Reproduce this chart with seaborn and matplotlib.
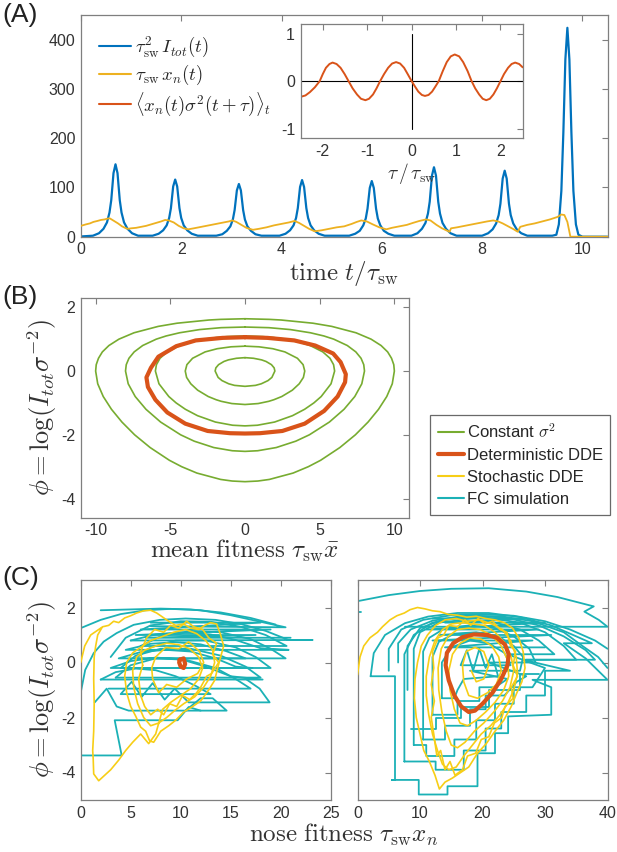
import numpy as np
import pandas as pd
import matplotlib
matplotlib.use("Agg")
import matplotlib.pyplot as plt
from matplotlib.lines import Line2D
import seaborn as sns

BLUE, GOLD, RED = "#0072BD", "#EDB120", "#D95319"
GREEN, YELLOW, CYAN = "#77AC30", "#F7CE16", "#1BB1B6"

# ---------------- panel A: time series ----------------
blue_t = [0.00,
          0.24, 0.36, 0.45, 0.52, 0.57, 0.605, 0.65, 0.69, 0.73, 0.775, 0.81, 0.86, 0.93, 1.02, 1.14,
          1.43, 1.55, 1.64, 1.71, 1.76, 1.795, 1.84, 1.88, 1.92, 1.965, 2.00, 2.05, 2.12, 2.21, 2.33,
          2.70, 2.82, 2.91, 2.98, 3.03, 3.065, 3.11, 3.15, 3.19, 3.235, 3.27, 3.32, 3.39, 3.48, 3.60,
          3.96, 4.08, 4.17, 4.24, 4.29, 4.325, 4.37, 4.41, 4.45, 4.495, 4.53, 4.58, 4.65, 4.74, 4.86,
          5.35, 5.47, 5.56, 5.63, 5.68, 5.715, 5.76, 5.80, 5.84, 5.885, 5.92, 5.97, 6.04, 6.13, 6.25,
          6.59, 6.71, 6.80, 6.87, 6.92, 6.955, 7.00, 7.04, 7.08, 7.125, 7.16, 7.21, 7.28, 7.37, 7.49,
          8.00, 8.12, 8.21, 8.28, 8.33, 8.365, 8.41, 8.45, 8.49, 8.535, 8.57, 8.62, 8.69, 8.78, 8.90,
          9.40, 9.48, 9.53, 9.58, 9.62, 9.66, 9.70, 9.74, 9.78, 9.82, 9.87, 9.92, 10.0,
          10.5]
blue_v = [0.5,
          2, 7, 16, 29, 49, 74, 129, 147, 129, 74, 49, 29, 16, 7, 2,
          2, 6, 13, 23, 38, 58, 102, 116, 102, 58, 38, 23, 13, 6, 2,
          2, 5, 12, 21, 35, 54, 94, 107, 94, 54, 35, 21, 12, 5, 2,
          2, 6, 13, 23, 38, 58, 101, 115, 101, 58, 38, 23, 13, 6, 2,
          2, 6, 12, 23, 37, 57, 99, 113, 99, 57, 37, 23, 12, 6, 2,
          2, 7, 16, 28, 47, 71, 124, 141, 124, 71, 47, 28, 16, 7, 2,
          2, 7, 15, 27, 44, 67, 118, 134, 118, 67, 44, 27, 15, 7, 2,
          2, 4, 25, 93, 212, 360, 424, 360, 212, 93, 25, 4, 0,
          0]

xn_t = [0.00, 0.10, 0.18, 0.25, 0.33, 0.40, 0.47, 0.54, 0.58, 0.66, 0.74, 0.82, 0.90, 0.94,
        1.00, 1.10, 1.20, 1.30, 1.40, 1.50, 1.60, 1.68, 1.75, 1.85, 1.95, 2.05, 2.14,
        2.25, 2.40, 2.55, 2.70, 2.85, 2.95, 3.02, 3.10, 3.20, 3.30, 3.43,
        3.55, 3.70, 3.85, 4.00, 4.15, 4.26, 4.35, 4.45, 4.55, 4.66,
        4.80, 4.95, 5.10, 5.25, 5.40, 5.50, 5.59, 5.70, 5.82, 5.95, 6.09,
        6.20, 6.35, 6.50, 6.62, 6.75, 6.88, 6.97, 7.09, 7.20, 7.35, 7.38,
        7.50, 7.65, 7.80, 7.95, 8.10, 8.22, 8.32, 8.41, 8.52, 8.63, 8.71, 8.76,
        8.90, 9.05, 9.20, 9.35, 9.50, 9.58, 9.64, 9.70, 9.76, 10.5]
xn_v = [22, 25, 27, 30, 32, 34, 35, 37, 37, 32, 27, 21, 17, 16,
        17, 18, 20, 22, 25, 28, 31, 34, 33, 29, 22, 17, 15,
        17, 20, 23, 26, 29, 31, 33, 30, 24, 18, 14,
        16, 19, 23, 26, 29, 32, 28, 22, 16, 11,
        13, 16, 19, 21, 26, 30, 33, 31, 25, 19, 15,
        18, 21, 24, 28, 32, 35, 33, 24, 17, 10, 17,
        19, 22, 25, 28, 31, 33, 31, 27, 21, 15, 10, 20,
        24, 27, 31, 35, 40, 45, 44, 30, 0, 0]

# inset: cross-correlation
tau = [-2.50, -2.39, -2.29, -2.18, -2.07, -2.00, -1.93, -1.85, -1.78, -1.69, -1.60, -1.51, -1.42,
       -1.33, -1.23, -1.14, -1.04, -0.96, -0.87, -0.79, -0.71, -0.62, -0.53, -0.44, -0.35,
       -0.26, -0.17, -0.09, 0.00, 0.08, 0.15, 0.23, 0.30, 0.38, 0.46, 0.53, 0.61,
       0.70, 0.79, 0.88, 0.97, 1.07, 1.16, 1.26, 1.35, 1.43, 1.52, 1.60, 1.68,
       1.76, 1.84, 1.92, 2.00, 2.08, 2.17, 2.25, 2.33, 2.42, 2.50]
corr = [-0.33, -0.30, -0.23, -0.13, 0.00, 0.15, 0.28, 0.36, 0.39, 0.36, 0.28, 0.15, 0.00,
        -0.15, -0.28, -0.37, -0.40, -0.37, -0.28, -0.15, 0.00, 0.15, 0.28, 0.37, 0.40,
        0.37, 0.28, 0.15, 0.00, -0.12, -0.22, -0.29, -0.31, -0.29, -0.22, -0.12, 0.00,
        0.21, 0.40, 0.52, 0.56, 0.52, 0.40, 0.21, 0.00, -0.15, -0.28, -0.37, -0.40,
        -0.37, -0.28, -0.15, 0.00, 0.15, 0.28, 0.36, 0.39, 0.36, 0.29]

# ---------------- panel B: phase plane (right half of each closed orbit) ----------------
c50_x = [0, 1.64, 2.42, 4.55, 5.81, 7.43, 8.44, 9.11, 9.55, 9.81, 9.96, 10.0, 9.86, 9.49,
         8.94, 8.24, 7.39, 6.35, 5.06, 4.24, 3.22, 1.63, 0.86, 0]
c50_p = [1.64, 1.62, 1.60, 1.50, 1.40, 1.20, 1.00, 0.80, 0.60, 0.40, 0.20, 0.0, -0.40, -0.80,
         -1.20, -1.60, -2.00, -2.40, -2.80, -3.00, -3.20, -3.40, -3.45, -3.47]
c32_x = [0, 1.60, 3.04, 4.38, 5.28, 5.94, 6.85, 7.42, 7.77, 7.95, 8.0, 7.82, 7.35, 6.63,
         5.65, 4.31, 3.40, 2.09, 0.85, 0]
c32_p = [1.38, 1.36, 1.30, 1.20, 1.10, 1.00, 0.80, 0.60, 0.40, 0.20, 0.0, -0.40, -0.80, -1.20,
         -1.60, -2.00, -2.20, -2.40, -2.50, -2.52]
c18_x = [0, 1.19, 1.92, 2.70, 3.69, 4.36, 5.21, 5.69, 5.93, 6.0, 5.76, 5.10, 4.61, 3.99,
         3.18, 1.98, 0.83, 0]
c18_p = [1.10, 1.08, 1.05, 1.00, 0.90, 0.80, 0.60, 0.40, 0.20, 0.0, -0.40, -0.80, -1.00, -1.20,
         -1.40, -1.60, -1.70, -1.72]
c8_x = [0, 0.93, 1.86, 2.67, 3.51, 3.89, 4.0, 3.91, 3.63, 3.17, 2.46, 1.93, 1.59, 0.88, 0]
c8_p = [0.78, 0.76, 0.70, 0.60, 0.40, 0.20, 0.0, -0.20, -0.40, -0.60, -0.80, -0.90, -0.95,
        -1.02, -1.05]
c2_x = [0, 0.57, 1.11, 1.41, 1.77, 1.95, 2.0, 1.80, 1.54, 1.09, 0.70, 0]
c2_p = [0.42, 0.40, 0.35, 0.30, 0.20, 0.10, 0.0, -0.20, -0.30, -0.40, -0.45, -0.48]

dde_x = [0, -1.5, -3.3, -4.6, -5.8, -6.3, -6.6, -6.5, -6.0, -5.2, -4.0, -2.5, -1.0, 0,
         1.0, 2.5, 4.0, 5.3, 6.2, 6.7, 6.75, 6.4, 5.9, 4.7, 3.3, 1.5, 0]
dde_p = [1.06, 1.04, 0.96, 0.78, 0.45, 0.10, -0.20, -0.50, -0.90, -1.30, -1.65, -1.88, -1.95,
         -1.96, -1.95, -1.88, -1.65, -1.25, -0.80, -0.35, -0.10, 0.28, 0.55, 0.80, 0.96, 1.04, 1.06]

# ---------------- panel C left: FC simulation / stochastic DDE ----------------
fcL_outer = [(0.0, 1.25), (2.0, 1.55), (4.0, 1.76), (6.5, 1.9), (9.0, 1.95), (12.0, 1.9),
             (15.0, 1.72), (18.0, 1.48), (20.5, 1.28), (7.0, 1.32)]
fcL_top = [(2.0, 1.9), (5.0, 1.93), (8.0, 1.96), (11.0, 1.93), (14.0, 1.82), (17.0, 1.62),
           (19.5, 1.38)]
fcL_rise = [(0.0, -1.1), (0.45, -0.27), (1.3, 0.34), (2.3, 0.76), (3.6, 1.07), (5.3, 1.37),
            (7.9, 1.55), (10.5, 1.6), (13.5, 1.55), (16.0, 1.4), (18.5, 1.15), (20.8, 0.82),
            (23.2, 0.82), (5.0, 0.8)]
fcL_mid = [(5.0, 0.8), (7.5, 1.02), (10.0, 1.1), (13.0, 1.02), (15.5, 0.82), (18.0, 0.52),
           (20.8, 0.46), (4.5, 0.46), (7.0, 0.68), (9.5, 0.74), (12.0, 0.66), (14.5, 0.42),
           (16.5, 0.15), (3.8, 0.15), (6.0, 0.38), (8.5, 0.46), (11.0, 0.40), (13.5, 0.15),
           (15.5, -0.15), (17.2, -0.2), (3.0, -0.2), (5.0, 0.05), (7.5, 0.18), (10.0, 0.12),
           (12.5, -0.15), (15.0, -0.5), (18.2, -0.62), (2.0, -0.62)]
fcL_low = [(2.0, -0.62), (3.5, -0.35), (5.5, -0.22), (7.5, -0.28), (9.5, -0.5), (11.5, -0.85),
           (13.0, -1.15), (4.0, -1.15), (5.1, -0.7), (6.1, -1.25), (7.2, -0.75), (8.4, -1.35),
           (9.4, -0.95), (10.8, -1.45), (18.9, -1.45), (17.9, -0.95), (16.6, -0.62)]
fcL_zig = [(1.4, -1.45), (2.6, -0.95), (3.6, -1.6), (4.8, -1.75), (14.6, -1.75), (13.2, -1.3),
           (12.0, -1.3), (10.5, -1.75)]
fcL_bottom = [(0.0, -3.38), (4.1, -3.38), (3.4, -2.1), (9.7, -2.1), (10.8, -1.62), (12.0, -1.75)]
fcL_a = [(3.0, 0.2), (4.5, 0.9), (7.0, 1.35), (10.0, 1.5), (13.0, 1.48), (16.0, 1.3),
         (18.5, 1.0), (20.6, 0.6), (6.0, 0.6)]
fcL_b = [(6.0, 0.6), (8.0, 0.95), (11.0, 1.15), (14.0, 1.1), (17.0, 0.85), (19.0, 0.5),
         (20.5, 0.15), (5.5, 0.15)]
fcL_c = [(5.5, 0.15), (7.0, 0.55), (9.5, 0.8), (12.5, 0.8), (15.5, 0.55), (17.5, 0.2),
         (19.0, -0.2), (4.0, -0.2)]
fcL_d = [(4.0, -0.2), (5.5, 0.25), (8.0, 0.5), (11.0, 0.5), (14.0, 0.25), (16.5, -0.15),
         (18.0, -0.55), (3.5, -0.55)]
fcL_e = [(3.5, -0.55), (5.0, -0.1), (7.5, 0.15), (10.5, 0.1), (13.5, -0.2), (15.5, -0.6),
         (17.0, -0.95), (2.8, -0.95)]
fcL_h = [(7.0, 1.45), (18.0, 1.45), (6.0, 1.2), (19.0, 1.2), (5.5, 1.0), (17.5, 1.0),
         (6.5, 0.9), (21.0, 0.9)]

sdeL = [(0.0, 0.0), (0.4, 0.6), (1.0, 1.0), (1.6, 1.15), (2.2, 1.3), (2.8, 1.35), (3.3, 1.5),
        (3.8, 1.45), (4.4, 1.62), (5.0, 1.7), (5.6, 1.8), (6.3, 1.88), (7.0, 1.9), (7.6, 1.8),
        (8.2, 1.65), (8.8, 1.5), (9.5, 1.35), (10.3, 1.4), (11.0, 1.25), (11.8, 1.2), (12.4, 1.35),
        (13.0, 1.45), (13.6, 1.4), (14.0, 1.0), (14.3, 0.6), (14.0, 0.2), (13.7, -0.2),
        (13.4, -0.65), (12.8, -1.0), (12.0, -1.4), (11.2, -1.6), (10.3, -1.8), (9.5, -2.1),
        (8.8, -2.3), (8.0, -2.5), (7.3, -2.9), (6.9, -2.85), (6.5, -2.5), (6.0, -2.35),
        (5.5, -1.95), (5.0, -1.6), (4.6, -1.1), (4.4, -0.5), (4.6, 0.0), (5.2, 0.35), (6.0, 0.55),
        (7.0, 0.8), (8.2, 0.95), (9.3, 1.1), (10.5, 1.2), (11.6, 1.05), (12.5, 0.8), (13.2, 0.45),
        (13.4, 0.0), (13.0, -0.5), (12.3, -0.9), (11.4, -1.25), (10.3, -1.5), (9.4, -1.75),
        (8.6, -2.0), (7.8, -2.2), (7.0, -2.3), (6.3, -2.0), (5.7, -1.5), (5.3, -0.9), (5.2, -0.3),
        (5.6, 0.2), (6.4, 0.45), (7.5, 0.6), (8.6, 0.7), (9.8, 0.65), (10.9, 0.5), (11.8, 0.2),
        (12.2, -0.2), (11.8, -0.6), (11.0, -0.95), (10.0, -1.2), (9.0, -1.45), (8.2, -1.7),
        (7.5, -2.6), (6.8, -2.95), (6.0, -2.6), (5.2, -2.9), (4.5, -3.2), (3.8, -3.55),
        (3.0, -3.9), (2.4, -4.1), (1.8, -4.3), (1.6, -4.2), (1.3, -4.05), (1.25, -3.5),
        (1.2, -3.2), (1.3, -2.5), (1.35, -1.5), (1.3, -0.6), (1.35, 0.2), (1.5, 0.6), (1.7, 1.0),
        (2.1, 1.25)]
sdeL2 = [(6.2, -0.1), (6.0, 0.4), (6.6, 0.9), (7.4, 1.2), (8.3, 1.1), (9.0, 1.35), (9.8, 1.25),
         (10.6, 1.5), (11.3, 1.3), (12.2, 1.2), (12.8, 0.9), (13.6, 0.7), (13.2, 0.3), (13.8, 0.0),
         (13.1, -0.4), (12.6, -0.5), (12.0, -0.9), (11.6, -1.1), (10.9, -1.35), (10.2, -1.2),
         (9.6, -1.6), (8.9, -1.5), (8.3, -1.9), (7.7, -1.7), (7.0, -1.9), (6.4, -1.6), (6.0, -1.2),
         (5.8, -0.6), (6.2, -0.1)]
sdeL3 = [(7.5, 0.2), (8.5, 0.55), (9.8, 0.5), (10.8, 0.75), (11.9, 0.4), (12.3, 0.0), (11.7, -0.4),
         (10.6, -0.6), (9.6, -0.9), (8.6, -0.8), (7.8, -1.1), (7.2, -0.6), (7.1, -0.2), (7.5, 0.2)]
ddeL = [(9.9, 0.1), (10.3, 0.15), (10.45, -0.05), (10.3, -0.2), (10.0, -0.15), (9.85, 0.0),
        (9.9, 0.1)]

# ---------------- panel C right ----------------
fcR_top = [(0.0, 2.23), (5, 2.45), (10, 2.6), (15, 2.68), (21, 2.7), (27, 2.58), (32, 2.38),
           (37.8, 2.04), (36.3, 1.85), (38.6, 1.55), (40, 1.3), (7.6, 1.3)]
fcR_stub = [(0.0, 1.85), (0.5, 1.85)]
fcR_1 = [(2.1, -0.5), (2.6, 0.34), (4.4, 1.0), (7.6, 1.43), (11.3, 1.67), (16, 1.8), (21, 1.8),
         (26, 1.65), (31, 1.35), (35, 0.95), (37.5, 0.7), (33, 0.7), (36.5, 0.15), (40, -0.63),
         (28, -0.63), (31, -0.9), (31, -1.9), (24.1, -1.96), (24.1, -2.57), (22, -2.57),
         (22, -3.3), (19.2, -3.3), (19.2, -4.5), (14.4, -4.5), (14.4, -4.8), (9.8, -4.8),
         (9.8, -4.27), (5.5, -4.27), (6.0, -4.27), (6.0, -0.5), (2.1, -0.5)]
fcR_2 = [(7.5, -3.6), (7.5, 0.3), (9, 1.0), (12, 1.45), (16, 1.62), (21, 1.62), (26, 1.45),
         (30, 1.1), (33, 0.6), (35, 0.1), (26.5, 0.1), (34, -0.3), (30, -0.3), (30, -1.2),
         (27, -1.2), (27, -1.8), (23, -1.8), (23, -2.4), (20.5, -2.4), (20.5, -3.2), (17, -3.2),
         (17, -3.9), (12.5, -3.9), (12.5, -3.6), (7.5, -3.6)]
fcR_3 = [(9, -3.0), (9, 0.5), (10, 1.1), (13, 1.45), (17, 1.55), (22, 1.45), (26, 1.2),
         (29, 0.8), (31.5, 0.3), (24, 0.3), (30, -0.2), (28, -0.9), (25, -0.9), (25, -1.5),
         (22, -1.5), (22, -2.1), (19, -2.1), (19, -2.8), (15.5, -2.8), (15.5, -3.4), (11, -3.4),
         (11, -3.0), (9, -3.0)]
fcR_4 = [(10.5, -2.8), (10.5, 0.4), (11.5, 0.9), (14, 1.25), (18, 1.35), (22, 1.25), (25, 0.95),
         (27.5, 0.5), (28.5, 0.0), (21, 0.0), (27, -0.5), (25.5, -0.7), (23.5, -1.2), (20.5, -1.2),
         (20.5, -1.7), (18, -1.7), (18, -2.3), (14, -2.3), (14, -2.8), (10.5, -2.8)]
fcR_5 = [(12, -1.9), (12, 0.2), (13, 0.75), (15.5, 1.05), (19, 1.1), (22.5, 0.95), (25, 0.6),
         (26.5, 0.2), (26, -0.3), (18, -0.3), (24, -0.6), (22, -0.9), (19.5, -0.9), (19.5, -1.4),
         (16, -1.4), (16, -1.9), (12, -1.9)]
fcR_6 = [(13.5, -1.3), (13.5, 0.0), (15, 0.55), (18, 0.8), (21, 0.7), (23.5, 0.35), (24.5, -0.1),
         (16.5, -0.1), (17.5, 0.45), (18.5, -0.3), (19.5, 0.5), (20.5, -0.2), (21.5, 0.3),
         (22.5, -0.5), (17, -0.6), (16, -1.0), (15.5, -1.3), (13.5, -1.3)]
fcR_7 = [(6.5, 0.0), (6.5, 0.7), (8.5, 1.2), (12, 1.52), (17, 1.7), (23, 1.68), (28, 1.5),
         (33, 1.1), (36, 0.6), (38.5, 0.2), (40, -0.2)]
fcR_8 = [(5.0, -0.3), (5.0, 0.5), (7.0, 1.2), (10.5, 1.55), (15, 1.72), (20, 1.76), (25, 1.7),
         (30, 1.5), (34, 1.2), (38, 0.8), (40, 0.5)]
fcR_9 = [(8.0, -1.0), (8.0, 0.6), (10, 1.25), (14, 1.58), (19, 1.7), (24, 1.62), (29, 1.35),
         (33, 0.95), (36.5, 0.45), (38, 0.1), (27, 0.1)]
fcR_h = [(12, 1.6), (27, 1.6), (14, 1.45), (30, 1.45), (11, 1.2), (29, 1.2), (13, 1.0), (31, 1.0),
         (12, 0.8), (28, 0.8), (14, 0.55), (30, 0.55)]
fcR_s = [(8.5, -2.4), (12.5, -2.4), (12.5, -2.0), (16.5, -2.0), (16.5, -1.6), (21, -1.6),
         (21, -1.0), (26, -1.0), (26, -0.4), (29, -0.4)]

sdeR = [(0.0, -0.45), (0.4, 0.2), (1.0, 0.6), (2.0, 0.9), (3.2, 1.1), (4.0, 1.3), (5.2, 1.55),
        (6.3, 1.7), (7.5, 1.8), (8.4, 1.92), (9.6, 2.0), (10.8, 1.95), (12.0, 1.88), (13.2, 1.85),
        (14.5, 1.75), (16.0, 1.72), (17.5, 1.65), (19.0, 1.68), (20.5, 1.6), (22.0, 1.55),
        (23.5, 1.45), (24.8, 1.25), (25.8, 0.9), (26.5, 0.4), (26.8, -0.2), (26.3, -0.7),
        (25.5, -1.1), (24.6, -1.6), (23.4, -2.1), (22.0, -2.5), (20.6, -2.95), (19.2, -3.3),
        (17.8, -3.8), (16.5, -4.0), (15.2, -4.2), (14.0, -4.35), (13.1, -4.6), (12.4, -4.1),
        (11.5, -3.6), (10.6, -3.2), (10.0, -2.6), (9.4, -2.0), (9.1, -1.3), (9.2, -0.6),
        (9.6, 0.0), (10.2, 0.6), (11.2, 1.0), (12.5, 1.35), (14.0, 1.55), (15.8, 1.6), (17.5, 1.5),
        (19.5, 1.55), (21.5, 1.4), (23.2, 1.2), (24.5, 0.8), (25.4, 0.2), (25.6, -0.4),
        (25.0, -1.0), (24.0, -1.5), (22.8, -1.9), (21.3, -2.3), (19.8, -2.6), (18.4, -3.0),
        (17.0, -3.4), (15.8, -3.8), (14.6, -3.9), (13.6, -3.7), (12.8, -3.2), (12.0, -2.6),
        (11.4, -1.9), (11.0, -1.2), (11.0, -0.5), (11.5, 0.2), (12.4, 0.8), (13.6, 1.2),
        (15.0, 1.4), (16.8, 1.45), (18.5, 1.4), (20.3, 1.35), (22.0, 1.1), (23.6, 0.7),
        (24.6, 0.2), (25.0, -0.3), (24.4, -0.9), (23.2, -1.4), (21.8, -1.8), (20.2, -2.2),
        (18.7, -2.5), (17.2, -2.9), (16.0, -3.1), (15.0, -3.0), (14.2, -2.5), (13.5, -1.8),
        (13.0, -1.0), (12.9, -0.2), (13.4, 0.5), (14.5, 0.95), (16.0, 1.2), (17.8, 1.25),
        (19.6, 1.2), (21.4, 1.0), (23.0, 0.6), (24.0, 0.1), (24.2, -0.5), (23.4, -1.0),
        (22.0, -1.45), (20.5, -1.8), (19.0, -2.1), (17.6, -2.3), (16.4, -2.2), (15.5, -1.7),
        (14.8, -1.0), (14.6, -0.3), (15.2, 0.3), (16.4, 0.7), (18.0, 0.9), (19.8, 0.85),
        (21.5, 0.6), (22.6, 0.2), (23.0, -0.3), (22.2, -0.8), (20.8, -1.1), (19.2, -1.3),
        (17.8, -1.2), (17.0, -0.7), (16.8, -0.1), (17.4, 0.4), (18.8, 0.55), (20.2, 0.4),
        (21.0, -0.1), (20.2, -0.6), (19.0, -0.7), (18.2, -0.3)]
sdeR2 = [(16.0, 1.3), (17.2, 1.55), (18.1, 1.35), (19.3, 1.6), (20.4, 1.4), (21.6, 1.5),
         (22.8, 1.2), (23.9, 1.1), (24.5, 0.6), (25.3, 0.4), (24.9, -0.1), (25.6, -0.5),
         (24.6, -0.9), (24.9, -1.3), (23.6, -1.6), (23.1, -2.0), (21.9, -2.2), (21.0, -2.7),
         (19.8, -2.8), (18.9, -3.3), (17.6, -3.4), (16.8, -3.9), (15.6, -4.1), (14.8, -3.6),
         (14.0, -3.9), (13.3, -3.2), (12.7, -3.4), (12.2, -2.6), (11.8, -2.0), (12.3, -1.4),
         (11.8, -0.8), (12.2, -0.2), (12.0, 0.4), (12.9, 0.9), (13.8, 1.0), (14.6, 1.35),
         (16.0, 1.3)]
ddeR = [(20.7, 1.0), (22.3, 0.9), (23.6, 0.65), (24.2, 0.3), (24.0, -0.1), (23.0, -0.6),
        (21.6, -1.1), (20.0, -1.5), (18.8, -1.75), (17.8, -1.8), (16.6, -1.6), (15.5, -1.2),
        (14.6, -0.65), (14.1, -0.1), (14.3, 0.35), (15.3, 0.7), (16.8, 0.92), (18.6, 1.02),
        (20.7, 1.0)]

# ---------------- style ----------------
sns.set_theme(style="white")
plt.rcParams["font.family"] = ["Liberation Sans", "DejaVu Sans"]
plt.rcParams["mathtext.fontset"] = "cm"
plt.rcParams["axes.unicode_minus"] = False

FRAME = "#7f7f7f"
TICKLAB = "#333333"


def matlab_axes(ax):
    for s in ax.spines.values():
        s.set_color(FRAME)
        s.set_linewidth(0.9)
    ax.tick_params(direction="in", length=4, width=0.8, top=True, right=True,
                   color=FRAME, labelcolor=TICKLAB, labelsize=11.5, pad=4)
    ax.set_xlabel("")
    ax.set_ylabel("")


def path(ax, x, y, color, lw, z=2):
    sns.lineplot(x=list(x), y=list(y), sort=False, estimator=None, color=color,
                 linewidth=lw, ax=ax, legend=False, zorder=z)


def path_pts(ax, pts, color, lw, z=2):
    xs, ys = zip(*pts)
    path(ax, xs, ys, color, lw, z)


def closed_orbit(ax, hx, hp, color, lw, z=2):
    # mirror the right half to get the full symmetric orbit
    hx, hp = np.asarray(hx), np.asarray(hp)
    x = np.concatenate([hx, -hx[::-1]])
    p = np.concatenate([hp, hp[::-1]])
    path(ax, x, p, color, lw, z)


W, H = 617, 852
fig = plt.figure(figsize=(W / 100, H / 100), dpi=100)


def box(l, t, r, b):
    return [l / W, 1 - b / H, (r - l) / W, (b - t) / H]


# panel A
axA = fig.add_axes(box(80.9, 15, 607.5, 236.7))
path(axA, blue_t, blue_v, BLUE, 1.6)
path(axA, xn_t, xn_v, GOLD, 1.3, z=3)
axA.set_xlim(0, 10.5)
axA.set_ylim(0, 450)
axA.set_xticks([0, 2, 4, 6, 8, 10])
axA.set_yticks([0, 100, 200, 300, 400])
matlab_axes(axA)
hA = [Line2D([], [], color=BLUE, lw=1.5), Line2D([], [], color=GOLD, lw=1.5),
      Line2D([], [], color=RED, lw=1.5)]
axA.legend(hA, [r"$\tau_{\rm sw}^2\, I_{tot}(t)$", r"$\tau_{\rm sw}\, x_n(t)$",
                r"$\langle x_n(t)\sigma^2(t+\tau)\rangle_t$"],
           loc="upper left", bbox_to_anchor=(0.02, 0.945), frameon=False, fontsize=13.5,
           handlelength=1.7, handletextpad=0.25, labelspacing=0.18, borderaxespad=0)

axI = fig.add_axes(box(300.6, 24, 522.7, 138.3))
axI.axhline(0, color="black", lw=0.8, zorder=1)
axI.axvline(0, ymin=0.2 / 2.4, ymax=2.2 / 2.4, color="black", lw=0.8, zorder=1)
path(axI, tau, corr, RED, 1.4)
axI.set_xlim(-2.5, 2.5)
axI.set_ylim(-1.2, 1.2)
axI.set_xticks([-2, -1, 0, 1, 2])
axI.set_yticks([-1, 0, 1])
matlab_axes(axI)
fig.text(411.7 / W, 1 - 173 / H, r"$\tau\,/\,\tau_{\rm sw}$", ha="center", va="center",
         fontsize=14, color="#333333")
fig.text(344 / W, 1 - 274 / H, r"$\mathrm{time}\ t/\tau_{\rm sw}$", ha="center", va="center",
         fontsize=18, color="#333333")

# panel B
axB = fig.add_axes(box(80.7, 297.7, 409.3, 517.7))
for hx, hp in [(c50_x, c50_p), (c32_x, c32_p), (c18_x, c18_p), (c8_x, c8_p), (c2_x, c2_p)]:
    closed_orbit(axB, hx, hp, GREEN, 1.2)
path(axB, dde_x, dde_p, RED, 3.0, z=3)
axB.set_xlim(-11, 11)
axB.set_ylim(-4.6, 2.3)
axB.set_xticks([-10, -5, 0, 5, 10])
axB.set_yticks([-4, -2, 0, 2])
matlab_axes(axB)
fig.text(245 / W, 1 - 551 / H, r"$\mathrm{mean\ fitness}\ \tau_{\rm sw}\bar{x}$",
         ha="center", va="center", fontsize=18, color="#333333")

hB = [Line2D([], [], color=GREEN, lw=1.5), Line2D([], [], color=RED, lw=3),
      Line2D([], [], color=YELLOW, lw=1.5), Line2D([], [], color=CYAN, lw=1.5)]
legB = fig.legend(hB, [r"Constant $\sigma^2$", "Deterministic DDE", "Stochastic DDE",
                       "FC simulation"],
                  loc="upper left", bbox_to_anchor=(430 / W, 1 - 415 / H), fontsize=12,
                  frameon=True, fancybox=False, edgecolor="#444444", handlelength=1.6,
                  handletextpad=0.15, labelspacing=0.42, borderpad=0.45, borderaxespad=0)
legB.get_frame().set_linewidth(0.9)

# panel C
axCL = fig.add_axes(box(80.7, 580, 330.6, 800))
for pts in [fcL_bottom, fcL_zig, fcL_low, fcL_mid, fcL_rise, fcL_top, fcL_outer,
            fcL_a, fcL_b, fcL_c, fcL_d, fcL_e, fcL_h]:
    path_pts(axCL, pts, CYAN, 1.3)
for pts in [sdeL, sdeL2, sdeL3]:
    path_pts(axCL, pts, YELLOW, 1.2, z=3)
path_pts(axCL, ddeL, RED, 3.0, z=4)
axCL.set_xlim(0, 25)
axCL.set_ylim(-5, 3)
axCL.set_xticks([0, 5, 10, 15, 20, 25])
axCL.set_yticks([-4, -2, 0, 2])
matlab_axes(axCL)

axCR = fig.add_axes(box(357.5, 580, 607.5, 800))
for pts in [fcR_1, fcR_2, fcR_3, fcR_4, fcR_5, fcR_6, fcR_7, fcR_8, fcR_9, fcR_h, fcR_s,
            fcR_top, fcR_stub]:
    path_pts(axCR, pts, CYAN, 1.3)
for pts in [sdeR, sdeR2]:
    path_pts(axCR, pts, YELLOW, 1.2, z=3)
path_pts(axCR, ddeR, RED, 3.0, z=4)
axCR.set_xlim(0, 40)
axCR.set_ylim(-5, 3)
axCR.set_xticks([0, 10, 20, 30, 40])
axCR.set_yticks([-4, -2, 0, 2])
matlab_axes(axCR)
axCR.tick_params(labelleft=False)

ylab = r"$\phi = \log(I_{tot}\sigma^{-2})$"
for yc in [407.7, 690]:
    fig.text(42 / W, 1 - yc / H, ylab, rotation=90, ha="center", va="center", fontsize=19,
             color="#333333")
fig.text(344 / W, 1 - 835 / H, r"$\mathrm{nose\ fitness}\ \tau_{\rm sw}x_n$", ha="center",
         va="center", fontsize=18, color="#333333")

for lab, top in [("(A)", 3), ("(B)", 285), ("(C)", 566)]:
    fig.text(2 / W, 1 - top / H, lab, ha="left", va="top", fontsize=19, color="#222222")

fig.savefig("out.png", dpi=100)
